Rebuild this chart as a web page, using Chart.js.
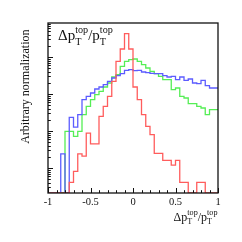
<!DOCTYPE html>
<html><head><meta charset="utf-8">
<script src="https://cdn.jsdelivr.net/npm/chart.js@4/dist/chart.umd.min.js"></script>
<style>html,body{margin:0;padding:0;background:#fff;overflow:hidden}#wrap{width:242px;height:242px}</style>
</head><body><div id="wrap"><canvas id="c" width="242" height="242"></canvas></div>
<script>
// 40 bins of width 0.05 between -1 and 1
const binEdges = [-1,-0.95,-0.9,-0.85,-0.8,-0.75,-0.7,-0.65,-0.6,-0.55,-0.5,-0.45,-0.4,-0.35,-0.3,-0.25,-0.2,-0.15,-0.1,-0.05,0,
  0.05,0.1,0.15,0.2,0.25,0.3,0.35,0.4,0.45,0.5,0.55,0.6,0.65,0.7,0.75,0.8,0.85,0.9,0.95,1];
const redCounts = [0,0,0,0,0,0,4.1,8.1,24,21,88,45,45,249,464,865,2200,7640,16440,42760,
  16440,1546,703,276,134,80,25,25,16,16,12,16,4.1,4.1,0,0,4.1,4.1,0,0];
const blueCounts = [0,0,0,0,24,0,234,128,276,703,865,1064,1365,1546,1787,2200,2706,3127,3546,4363,
  4550,4276,4363,3936,3776,3622,3546,3546,3127,2877,3000,2438,2877,2339,2542,1983,1901,2339,1680,1452];
const greenCounts = [0,0,0,0,0,98,98,72,98,276,464,703,959,1180,1546,1983,2877,3334,5595,7640,
  8472,8830,7640,6205,5044,4100,3546,3000,2438,2438,1309,1452,865,780,548,548,464,419,276,378];
const xTickValues = [-1,-0.5,0,0.5,1];
const xTickLabels = ['-1','-0.5','0','0.5','1'];
const yTitle = 'Arbitrary normalization';
const yMin = 2.11, yMax = 83000;

const SERIF = '"Liberation Serif","Times New Roman",serif';

function toPoints(counts){
  const pts = binEdges.map((e,i)=>{
    const v = counts[Math.min(i, counts.length-1)];
    return {x:e, y: v>0 ? v : yMin};
  });
  return pts;
}

function drawRatio(ctx, x, baseline, size, alignRight){
  const big = size+'px '+SERIF, small = (size*0.68)+'px '+SERIF;
  ctx.font = big; const w1 = ctx.measureText('\u0394p').width; const w2 = ctx.measureText('/p').width;
  ctx.font = small; const ws = Math.max(ctx.measureText('top').width, ctx.measureText('T').width);
  const total = w1+ws+w2+ws;
  let cx = alignRight ? x-total : x;
  ctx.textAlign='left'; ctx.textBaseline='alphabetic';
  ctx.font = big; ctx.fillText('\u0394p', cx, baseline); cx += w1;
  ctx.font = small; ctx.fillText('top', cx, baseline-size*0.5); ctx.fillText('T', cx, baseline+size*0.32); cx += ws;
  ctx.font = big; ctx.fillText('/p', cx, baseline); cx += w2;
  ctx.font = small; ctx.fillText('top', cx, baseline-size*0.5); ctx.fillText('T', cx, baseline+size*0.32);
}

const decor = {
  id:'decor',
  afterDraw(chart){
    const {ctx, chartArea:a, scales} = chart;
    const xs = scales.x, ys = scales.y;
    ctx.save();
    ctx.strokeStyle = '#111'; ctx.lineWidth = 1;
    // x ticks (inside)
    for(let k=-10;k<=10;k++){
      const v = k/10; const px = Math.round(xs.getPixelForValue(v))+0.5;
      const len = (k%5===0)?5:2.8;
      ctx.beginPath(); ctx.moveTo(px, a.bottom); ctx.lineTo(px, a.bottom-len); ctx.stroke();
    }
    // y ticks log
    for(let d=-1; d<=5; d++){
      for(let m=1;m<=9;m++){
        const v = m*Math.pow(10,d);
        if(v<yMin||v>yMax) continue;
        const py = Math.round(ys.getPixelForValue(v))+0.5;
        const len = m===1?5:2.8;
        ctx.beginPath(); ctx.moveTo(a.left, py); ctx.lineTo(a.left+len, py); ctx.stroke();
      }
    }
    // frame
    ctx.lineWidth = 1.3; ctx.strokeStyle='#111';
    ctx.strokeRect(a.left, a.top, a.right-a.left, a.bottom-a.top);
    // titles
    ctx.fillStyle = '#111';
    ctx.save(); ctx.translate(29, 29.5); ctx.rotate(-Math.PI/2);
    ctx.font = '12px '+SERIF; ctx.textAlign='right'; ctx.textBaseline='alphabetic';
    ctx.fillText(yTitle, 0, 0); ctx.restore();
    drawRatio(ctx, 217.5, 220.5, 12, true);
    drawRatio(ctx, a.left+10, 40, 15, false);
    ctx.restore();
  }
};

const ds = (label, counts, color) => ({label, data: toPoints(counts), borderColor: color, borderWidth: 1.3,
  stepped: 'after', pointRadius: 0, fill: false, tension: 0});

new Chart(document.getElementById('c'), {
  type: 'line',
  data: { datasets: [ ds('red', redCounts, '#ff5c5c'), ds('blue', blueCounts, '#5c5cff'), ds('green', greenCounts, '#55ee55') ] },
  options: {
    responsive: false, animation: false, devicePixelRatio: 1,
    layout: { padding: {left:0, right:24, top:23, bottom:0} },
    plugins: { legend: {display:false}, tooltip: {enabled:false} },
    scales: {
      x: { type:'linear', min:-1, max:1,
        afterBuildTicks: s => { s.ticks = xTickValues.map(v=>({value:v})); },
        afterFit: s => { s.height = 49; },
        ticks: { callback: (v,i) => xTickLabels[i], autoSkip:false, maxRotation:0, padding:3, color:'#111',
          font:{family:SERIF, size:10.5} },
        grid: { display:false, drawTicks:false }, border: {display:false} },
      y: { type:'logarithmic', min:yMin, max:yMax,
        afterFit: s => { s.width = 48; },
        ticks: { display:false }, grid: {display:false, drawTicks:false}, border:{display:false} }
    }
  },
  plugins: [decor]
});
</script></body></html>
